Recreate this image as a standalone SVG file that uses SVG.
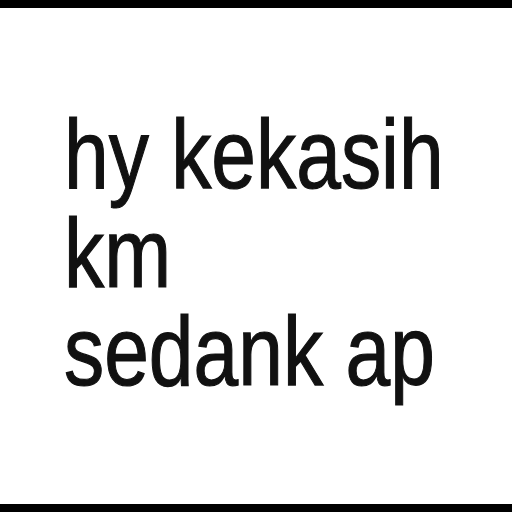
<svg xmlns="http://www.w3.org/2000/svg" width="512" height="512" viewBox="0 0 512 512">
  <style>
    .t { font-family: "Liberation Sans", Arial, sans-serif; font-size: 98px; fill: #111; stroke: #111; stroke-width: 1.2px; }
  </style>
  <rect x="0" y="0" width="512" height="512" fill="#ffffff"/>
  <rect x="0" y="0" width="512" height="8" fill="#000000"/>
  <rect x="0" y="504" width="512" height="8" fill="#000000"/>
  <g id="text" transform="translate(64,0) scale(0.82,1)">
    <text class="t" x="0" y="188">hy kekasih</text>
    <text class="t" x="0" y="287">km</text>
    <text class="t" x="0" y="385">sedank ap</text>
  </g>
</svg>
